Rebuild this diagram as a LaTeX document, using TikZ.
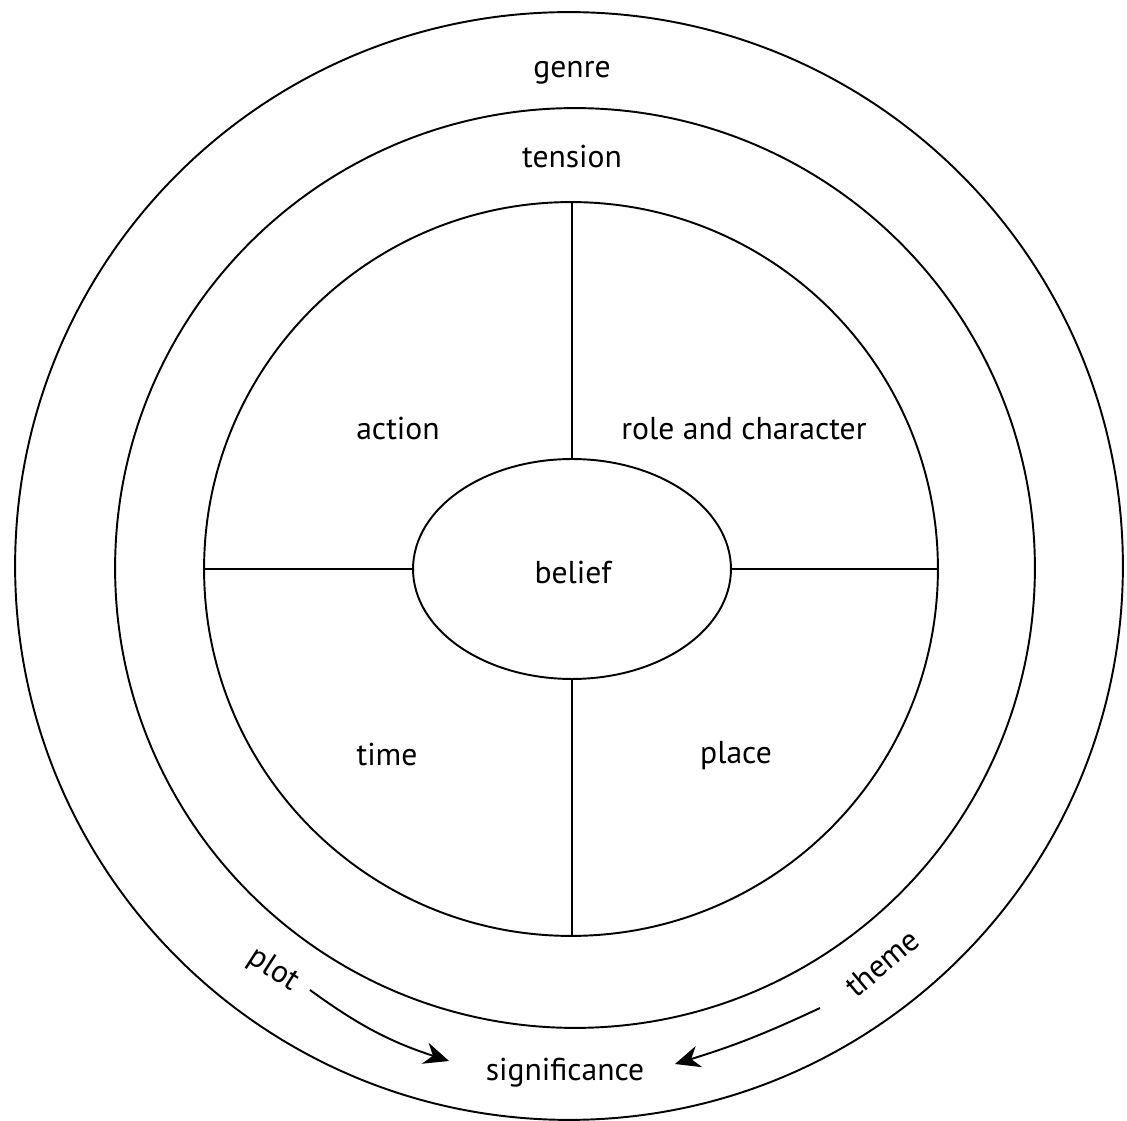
\documentclass[tikz,border=0pt]{standalone}
\usepackage{fontspec}
\setmainfont{PT Sans}
\usetikzlibrary{positioning,shapes.geometric,arrows.meta}
\tikzset{
  ring/.style={circle,draw=black,line width=1.1pt,inner sep=0pt},
  core/.style={ellipse,draw=black,line width=1.1pt,inner sep=0pt,
    minimum width=6.36cm,minimum height=4.4cm,font=\fontsize{18}{22}\selectfont},
  lbl/.style={font=\fontsize{18}{22}\selectfont,inner sep=1pt},
  spoke/.style={draw=black,line width=1.1pt},
  flow/.style={draw=black,line width=1.1pt,-{Stealth[length=0.5cm,width=0.44cm]}},
}

\begin{document}
\begin{tikzpicture}[x=0.02cm,y=-0.02cm]
\useasboundingbox (0,0) rectangle (1127,1121);
% rings
\node[ring,minimum size=22.16cm] (outer) at (569,566) {};
\node[ring,minimum size=18.4cm] (middle) at (575,568) {};
\node[ring,minimum size=14.68cm] (inner) at (571,569) {};
\node[core] (belief) at (572,569) {};
\node[lbl] (beliefT) at (573,572) {belief};
% spokes
\draw[spoke] (belief.north) -- (belief.north |- inner.north);
\draw[spoke] (belief.south) -- (belief.south |- inner.south);
\draw[spoke] (belief.west) -- (belief.west -| inner.west);
\draw[spoke] (belief.east) -- (belief.east -| inner.east);
% labels
\node[lbl] (genre) at (572,73) {genre};
\node[lbl] (tension) at (572,157) {tension};
\node[lbl] (action) at (398,428) {action};
\node[lbl] (role) at (744,429) {role and character};
\node[lbl] (time) at (387,754) {time};
\node[lbl] (place) at (736,756) {place};
\node[lbl] (signif) at (565,1073) {significance};
\node[lbl,rotate=-33] (plot) at (273,970) {plot};
\node[lbl,rotate=40] (theme) at (882,963) {theme};
% arrows
\coordinate (plotS) at (310,990);
\coordinate (plotE) at (449,1061);
\coordinate (themeS) at (820,1008);
\coordinate (themeE) at (675,1064);
\draw[flow] (plotS) to[bend right=9] (plotE);
\draw[flow] (themeS) to[bend left=4] (themeE);
\end{tikzpicture}
\end{document}
